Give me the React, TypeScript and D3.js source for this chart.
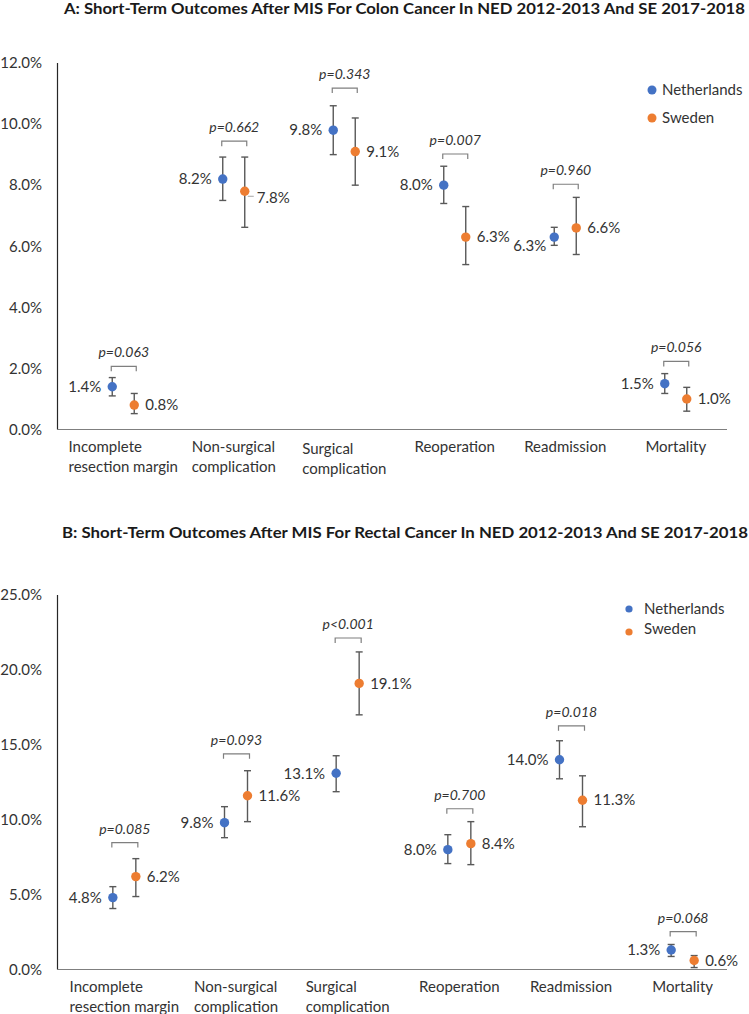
import React, { useEffect, useRef } from "react";
import * as d3 from "d3";

const categories = [
  "Incomplete resection margin",
  "Non-surgical complication",
  "Surgical complication",
  "Reoperation",
  "Readmission",
  "Mortality",
];
const categoryLines = [
  ["Incomplete", "resection margin"],
  ["Non-surgical", "complication"],
  ["Surgical", "complication"],
  ["Reoperation"],
  ["Readmission"],
  ["Mortality"],
];
const seriesNames = ["Netherlands", "Sweden"];

// Panel A: colon cancer
const nedColon = [1.4, 8.2, 9.8, 8.0, 6.3, 1.5];
const nedColonLow = [1.1, 7.5, 9.0, 7.4, 6.03, 1.18];
const nedColonHigh = [1.7, 8.92, 10.6, 8.62, 6.62, 1.83];
const seColon = [0.8, 7.8, 9.1, 6.3, 6.6, 1.0];
const seColonLow = [0.52, 6.62, 8.0, 5.4, 5.73, 0.6];
const seColonHigh = [1.18, 8.92, 10.2, 7.3, 7.6, 1.38];
const pColon = ["p=0.063", "p=0.662", "p=0.343", "p=0.007", "p=0.960", "p=0.056"];
const bracketColon = [2.07, 9.44, 11.18, 9.02, 8.03, 2.23];
const colonTicks = [0, 2, 4, 6, 8, 10, 12];

// Panel B: rectal cancer
const nedRectal = [4.8, 9.8, 13.1, 8.0, 14.0, 1.3];
const nedRectalLow = [4.07, 8.8, 11.87, 7.07, 12.73, 0.87];
const nedRectalHigh = [5.53, 10.87, 14.27, 9.0, 15.27, 1.67];
const seRectal = [6.2, 11.6, 19.1, 8.4, 11.3, 0.6];
const seRectalLow = [4.87, 9.87, 17.0, 7.0, 9.53, 0.13];
const seRectalHigh = [7.4, 13.27, 21.2, 9.87, 12.93, 0.93];
const pRectal = ["p=0.085", "p=0.093", "p<0.001", "p=0.700", "p=0.018", "p=0.068"];
const bracketRectal = [8.47, 14.4, 22.13, 10.73, 16.27, 2.53];
const rectalTicks = [0, 5, 10, 15, 20, 25];

const titleA = "A: Short-Term Outcomes After MIS For Colon Cancer In NED 2012-2013 And SE 2017-2018";
const titleB = "B: Short-Term Outcomes After MIS For Rectal Cancer In NED 2012-2013 And SE 2017-2018";

const BLUE = "#4472C4";
const ORANGE = "#ED7D31";
const TEXT = "#333333";
const ERR = "#595959";
const FONT = "Lato, 'Open Sans', sans-serif";
const FS = 15;

type Panel = {
  title: string;
  titleX: [number, number];
  titleY: number;
  ned: number[]; nedLow: number[]; nedHigh: number[];
  se: number[]; seLow: number[]; seHigh: number[];
  p: string[]; bracket: number[]; ticks: number[];
  yRange: [number, number];
  xRange: [number, number];
  axisEnd: number;
  offset: number;
  legend: { x: number; y: number[]; r: number; tx: number; ty: number[] };
  special: boolean;
};

const panels: Panel[] = [
  {
    title: titleA, titleX: [64, 745], titleY: 14,
    ned: nedColon, nedLow: nedColonLow, nedHigh: nedColonHigh,
    se: seColon, seLow: seColonLow, seHigh: seColonHigh,
    p: pColon, bracket: bracketColon, ticks: colonTicks,
    yRange: [429.5, 63], xRange: [57, 720], axisEnd: 727, offset: 22,
    legend: { x: 652, y: [90, 118], r: 4.5, tx: 662, ty: [90, 118] },
    special: true,
  },
  {
    title: titleB, titleX: [62, 748], titleY: 538,
    ned: nedRectal, nedLow: nedRectalLow, nedHigh: nedRectalHigh,
    se: seRectal, seLow: seRectalLow, seHigh: seRectalHigh,
    p: pRectal, bracket: bracketRectal, ticks: rectalTicks,
    yRange: [969.5, 595], xRange: [57, 727], axisEnd: 727, offset: 23,
    legend: { x: 629, y: [609, 632], r: 3.6, tx: 644, ty: [609, 629] },
    special: false,
  },
];

export default function App() {
  const ref = useRef<SVGSVGElement>(null);
  useEffect(() => {
    document.body.style.margin = "0";
    const svg = d3.select(ref.current);
    svg.selectAll("*").remove();
    svg.append("rect").attr("width", 749).attr("height", 1014).attr("fill", "#fff");

    panels.forEach((P) => {
      const g = svg.append("g");
      const y = d3.scaleLinear().domain([0, d3.max(P.ticks) as number]).range(P.yRange);
      const x = d3.scaleBand<string>().domain(categories).range(P.xRange).paddingInner(0);
      const cx = (c: string) => (x(c) as number) + x.bandwidth() / 2;

      // title
      g.append("text")
        .attr("x", P.titleX[0]).attr("y", P.titleY)
        .attr("textLength", P.titleX[1] - P.titleX[0])
        .attr("lengthAdjust", "spacingAndGlyphs")
        .attr("font-family", FONT).attr("font-weight", "bold").attr("font-size", 15.5)
        .attr("fill", "#1a1a1a").text(P.title);

      // y axis line
      g.append("line")
        .attr("x1", 57.5).attr("x2", 57.5)
        .attr("y1", y(d3.max(P.ticks) as number)).attr("y2", y(0))
        .attr("stroke", "#262626").attr("stroke-width", 1.2);
      // x axis line
      g.append("line")
        .attr("x1", 57).attr("x2", P.axisEnd)
        .attr("y1", y(0)).attr("y2", y(0))
        .attr("stroke", "#7f7f7f").attr("stroke-width", 1.2);

      // y tick labels
      g.selectAll(".yt").data(P.ticks).enter().append("text")
        .attr("x", 42).attr("y", (d) => y(d)).attr("dy", "0.35em")
        .attr("text-anchor", "end")
        .attr("font-family", FONT).attr("font-size", FS).attr("fill", TEXT)
        .text((d) => d3.format(".1f")(d) + "%");

      // category labels (left-aligned block centered under pair)
      categories.forEach((c, i) => {
        const center = cx(c) + P.offset / 2;
        const lines = categoryLines[i];
        const extra = P.special && i === 2 ? 2 : 0;
        const tg = g.append("g");
        const texts = lines.map((ln, li) =>
          tg.append("text")
            .attr("y", y(0) + 17 + li * 20 + extra).attr("dy", "0.35em")
            .attr("font-family", FONT).attr("font-size", FS).attr("fill", TEXT)
            .text(ln)
        );
        let maxW = 0;
        texts.forEach((t) => {
          const w = (t.node() as SVGTextElement).getComputedTextLength();
          if (w > maxW) maxW = w;
        });
        texts.forEach((t) => t.attr("x", center - maxW / 2));
      });

      const series = [
        { v: P.ned, lo: P.nedLow, hi: P.nedHigh, color: BLUE, off: 0 },
        { v: P.se, lo: P.seLow, hi: P.seHigh, color: ORANGE, off: P.offset },
      ];

      series.forEach((s) => {
        categories.forEach((c, i) => {
          const px = cx(c) + s.off;
          g.append("line")
            .attr("x1", px).attr("x2", px)
            .attr("y1", y(s.lo[i])).attr("y2", y(s.hi[i]))
            .attr("stroke", ERR).attr("stroke-width", 1.4);
          [s.lo[i], s.hi[i]].forEach((e) => {
            g.append("line")
              .attr("x1", px - 3.5).attr("x2", px + 3.5)
              .attr("y1", y(e)).attr("y2", y(e))
              .attr("stroke", ERR).attr("stroke-width", 1.4);
          });
        });
      });

      series.forEach((s, si) => {
        categories.forEach((c, i) => {
          const px = cx(c) + s.off;
          const py = y(s.v[i]);
          g.append("circle").attr("cx", px).attr("cy", py).attr("r", 4.7).attr("fill", s.color);
          let lx = si === 0 ? px - 11 : px + 11;
          let ly = py;
          if (P.special && si === 0 && i === 4) { lx = px - 8; ly = py + 9; }
          if (P.special && si === 1 && i === 1) {
            ly = py + 6;
            lx = px + 12;
            g.append("line")
              .attr("x1", px + 3).attr("x2", px + 9)
              .attr("y1", ly - 1).attr("y2", ly - 1)
              .attr("stroke", "#a6a6a6").attr("stroke-width", 1);
          }
          g.append("text")
            .attr("x", lx).attr("y", ly).attr("dy", "0.35em")
            .attr("text-anchor", si === 0 ? "end" : "start")
            .attr("font-family", FONT).attr("font-size", FS).attr("fill", TEXT)
            .text(d3.format(".1f")(s.v[i]) + "%");
        });
      });

      // p-value brackets
      categories.forEach((c, i) => {
        const x1 = cx(c) - 1;
        const x2 = cx(c) + P.offset + 2;
        const by = y(P.bracket[i]);
        const path = d3.path();
        path.moveTo(x1, by + 5);
        path.lineTo(x1, by);
        path.lineTo(x2, by);
        path.lineTo(x2, by + 5);
        g.append("path").attr("d", path.toString())
          .attr("fill", "none").attr("stroke", "#7f7f7f").attr("stroke-width", 1.2);
        g.append("text")
          .attr("x", (x1 + x2) / 2).attr("y", by - 14).attr("dy", "0.35em")
          .attr("text-anchor", "middle")
          .attr("font-family", FONT).attr("font-style", "italic").attr("font-size", 14)
          .attr("fill", TEXT).text(P.p[i]);
      });

      // legend
      seriesNames.forEach((n, k) => {
        g.append("circle").attr("cx", P.legend.x).attr("cy", P.legend.y[k])
          .attr("r", P.legend.r).attr("fill", k === 0 ? BLUE : ORANGE);
        g.append("text").attr("x", P.legend.tx).attr("y", P.legend.ty[k]).attr("dy", "0.35em")
          .attr("font-family", FONT).attr("font-size", FS).attr("fill", TEXT).text(n);
      });
    });
  }, []);

  return <svg ref={ref} width={749} height={1014} style={{ display: "block" }} />;
}
